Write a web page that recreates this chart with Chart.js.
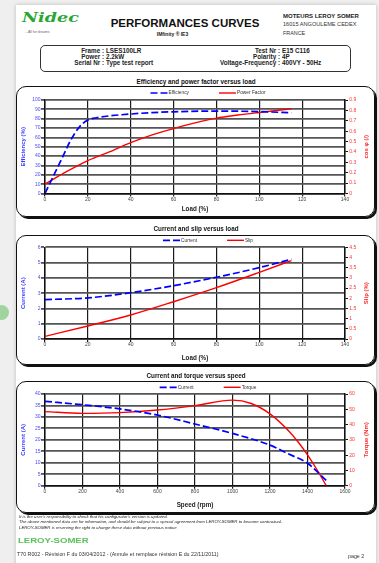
<!DOCTYPE html>
<html>
<head>
<meta charset="utf-8">
<script src="https://cdn.jsdelivr.net/npm/chart.js@4.4.1/dist/chart.umd.min.js"></script>
<style>
body{margin:0;width:379px;height:563px;background:#efefef;overflow:hidden;position:relative;font-family:'Liberation Sans',Arial,sans-serif;}
#page{position:absolute;left:16px;top:5px;width:360px;height:562px;background:#fff;box-shadow:0 0 4px rgba(0,0,0,.22);}
.t{position:absolute;white-space:nowrap;color:#222;line-height:1;}
.b{font-weight:bold;}
.box{position:absolute;left:16px;width:359px;border:1.5px solid #111;border-radius:10px;box-shadow:2px 2px 0 #111;box-sizing:border-box;pointer-events:none;}
canvas{position:absolute;left:16px;}
.ctitle{position:absolute;left:96px;width:200px;text-align:center;font-weight:bold;font-size:6.3px;line-height:1;color:#111;}
</style>
</head>
<body>
<div id="page"></div>
<div style="position:absolute;left:-6.5px;top:305px;width:15px;height:15px;border-radius:50%;background:#9fd49f;"></div>

<!-- header -->
<div class="t" style="left:22px;top:9.5px;font:italic 900 13px 'DejaVu Serif';color:#2aa636;transform:scaleX(1.35);transform-origin:left;">Nidec</div>
<div class="t" style="left:25px;top:30.5px;font-size:3.5px;color:#666;">...All for dreams</div>
<div class="t b" style="left:85px;width:200px;text-align:center;top:17.7px;font-size:11.5px;color:#111;">PERFORMANCES CURVES</div>
<div class="t b" style="left:122.5px;width:100px;text-align:center;top:31.5px;font-size:5px;">IMfinity ® IE3</div>
<div class="t b" style="left:283px;top:12.5px;font-size:6px;">MOTEURS LEROY SOMER</div>
<div class="t" style="left:283px;top:21.7px;font-size:5.6px;color:#333;">16015 ANGOULEME CEDEX</div>
<div class="t" style="left:283px;top:30.6px;font-size:5.4px;color:#333;">FRANCE</div>

<div style="position:absolute;left:40px;top:45px;width:311px;height:27px;border:1px solid #333;border-radius:5px;box-sizing:border-box;"></div>
<div class="t b" style="left:0;width:104px;text-align:right;top:47.5px;font-size:6.3px;">Frame :</div>
<div class="t b" style="left:106px;top:47.5px;font-size:6.3px;">LSES100LR</div>
<div class="t b" style="left:0;width:104px;text-align:right;top:53.6px;font-size:6.3px;">Power :</div>
<div class="t b" style="left:106px;top:53.6px;font-size:6.3px;">2.2kW</div>
<div class="t b" style="left:0;width:104px;text-align:right;top:60.1px;font-size:6.3px;">Serial Nr :</div>
<div class="t b" style="left:106px;top:60.1px;font-size:6.3px;">Type test report</div>
<div class="t b" style="left:100px;width:180px;text-align:right;top:47.5px;font-size:6.3px;">Test Nr :</div>
<div class="t b" style="left:282px;top:47.5px;font-size:6.3px;">E15 C116</div>
<div class="t b" style="left:100px;width:180px;text-align:right;top:53.6px;font-size:6.3px;">Polarity :</div>
<div class="t b" style="left:282px;top:53.6px;font-size:6.3px;">4P</div>
<div class="t b" style="left:100px;width:180px;text-align:right;top:60.1px;font-size:6.3px;">Voltage-Frequency :</div>
<div class="t b" style="left:282px;top:60.1px;font-size:6.3px;">400VY - 50Hz</div>

<!-- charts -->
<div class="ctitle" style="top:78.5px;">Efficiency and power factor versus load</div>
<canvas id="c1" width="359" height="131" style="top:86px;"></canvas>
<div class="box" style="top:86px;height:131px;"></div>

<div class="ctitle" style="top:225.8px;">Current and slip versus load</div>
<canvas id="c2" width="359" height="130" style="top:235px;"></canvas>
<div class="box" style="top:235px;height:130px;"></div>

<div class="ctitle" style="top:373.3px;">Current and torque versus speed</div>
<canvas id="c3" width="359" height="132" style="top:381px;"></canvas>
<div class="box" style="top:381px;height:132px;"></div>

<!-- footer -->
<div class="t" style="left:19px;top:515.2px;font-size:4.3px;font-style:italic;">It is the user's responsibility to check that his configurator's version is updated.</div>
<div class="t" style="left:19px;top:520.2px;font-size:4.3px;font-style:italic;">The above mentioned data are for information, and should be subject to a special agreement from LEROY-SOMER to become contractual.</div>
<div class="t" style="left:19px;top:525.5px;font-size:4.3px;font-style:italic;">LEROY-SOMER is reserving the right to change these data without previous notice</div>
<div class="t b" style="left:18px;top:537.5px;font-size:6.5px;color:#5cc25c;transform:scaleX(1.47);transform-origin:left;">LEROY-SOMER</div>
<div class="t" style="left:17px;top:552.3px;font-size:5.3px;color:#333;">T70 R002 - Révision F du 03/04/2012 - (Annule et remplace révision E du 22/11/2011)</div>
<div class="t" style="left:348px;top:553.5px;font-size:5.3px;color:#333;">page 2</div>

<script>
// efficiency / power factor versus load
const effLoad = [0, 4, 8, 12, 16, 20, 24, 30, 40, 50, 60, 80, 100, 115];
const effValues = [0, 19, 38, 57, 71, 78.5, 81, 83, 85, 86.5, 87.4, 88.2, 87.6, 86.3];
const pfLoad = [0, 10, 20, 30, 40, 50, 60, 70, 80, 90, 100, 115];
const pfValues = [0.09, 0.21, 0.317, 0.40, 0.49, 0.565, 0.625, 0.68, 0.725, 0.755, 0.78, 0.815];

// current / slip versus load
const loadPoints = [0, 20, 40, 60, 80, 100, 115];
const currentValues = [2.58, 2.69, 3.03, 3.49, 4.04, 4.67, 5.22];
const slipValues = [0.13, 0.64, 1.18, 1.83, 2.52, 3.27, 3.85];

// current / torque versus speed
const curSpeed = [0, 200, 400, 600, 800, 1000, 1200, 1300, 1400, 1500];
const curAmps = [36.8, 35.3, 33.5, 30.8, 26.9, 22.8, 17.7, 13.8, 9.8, 2.3];
const torqueSpeed = [0, 200, 400, 600, 800, 1000, 1100, 1200, 1300, 1350, 1400, 1450, 1500];
const torqueNm = [48.5, 47.3, 47.8, 49.5, 52.4, 56.0, 53.8, 47.0, 35.8, 28.6, 20.2, 10.6, 0];

// axis ranges [min, max, step]
const loadAxis = [0, 140, 20];
const speedAxis = [0, 1600, 200];
const effAxis = [0, 100, 10];
const pfAxis = [0, 0.9, 0.1];
const ampAxis1 = [0, 6, 1];
const slipAxis = [0, 4.5, 0.5];
const ampAxis2 = [0, 40, 5];
const torqueAxis = [0, 60, 10];

Chart.defaults.font.family = "'Liberation Sans', Arial, sans-serif";

function pts(xs, ys){
  return xs.map((x,i)=>({x:x, y:ys[i]}));
}

const lineLegend = {
  id:'lineLegend',
  afterDraw(chart, args, o){
    const ctx = chart.ctx;
    ctx.save();
    ctx.font = "4.8px 'Liberation Sans'";
    const items = chart.data.datasets.map(ds=>({ds:ds, w:o.sample + 1 + ctx.measureText(ds.label).width}));
    const total = items.reduce((s,i)=>s+i.w,0) + o.gap*(items.length-1);
    let x = o.cx - total/2;
    items.forEach(it=>{
      ctx.strokeStyle = it.ds.borderColor;
      ctx.lineWidth = it.ds.borderWidth;
      ctx.setLineDash(it.ds.borderDash || []);
      ctx.beginPath();
      ctx.moveTo(x, o.y);
      ctx.lineTo(x+o.sample, o.y);
      ctx.stroke();
      ctx.setLineDash([]);
      ctx.fillStyle = '#333';
      ctx.textBaseline = 'middle';
      ctx.fillText(it.ds.label, x+o.sample+1, o.y);
      x += it.w + o.gap;
    });
    ctx.restore();
  }
};

// the right axis title reads bottom to top, like the left one
const rightTitle = {
  id:'rightTitle',
  afterDraw(chart, args, o){
    const ctx = chart.ctx, a = chart.chartArea;
    ctx.save();
    ctx.translate(o.x, (a.top+a.bottom)/2);
    ctx.rotate(-Math.PI/2);
    ctx.font = "bold 6px 'Liberation Sans'";
    ctx.fillStyle = o.color;
    ctx.textAlign = 'center';
    ctx.textBaseline = 'middle';
    ctx.fillText(o.text, 0, 0);
    ctx.restore();
  }
};

const fmt = v => String(+Number(v).toFixed(2));

function blueLine(label, data){
  return {label:label, data:data, yAxisID:'y', borderColor:'#0000ff', borderWidth:1.7, borderDash:[7,3],
    pointRadius:0, cubicInterpolationMode:'monotone', fill:false};
}
function redLine(label, data){
  return {label:label, data:data, yAxisID:'y1', borderColor:'#ff0000', borderWidth:1.4,
    pointRadius:0, cubicInterpolationMode:'monotone', fill:false};
}

function makeChart(id, p){
  return new Chart(document.getElementById(id), {
    type:'line',
    data:{datasets:p.datasets},
    plugins:[lineLegend, rightTitle],
    options:{
      responsive:false,
      animation:false,
      layout:{padding:{top:p.padTop, left:0, right:0, bottom:0}},
      plugins:{
        legend:{display:false},
        tooltip:{enabled:false},
        lineLegend:{cx:192, y:p.legendY, sample:17, gap:30},
        rightTitle:{x:350.5, text:p.rightTitle, color:'#ff2a2a'}
      },
      scales:{
        x:{
          type:'linear', min:p.xAxis[0], max:p.xAxis[1],
          ticks:{stepSize:p.xAxis[2], color:'#444', font:{size:5}, padding:p.xTickPad, maxRotation:0, callback:fmt},
          grid:{color:'#1a1a1a', lineWidth:1.2, tickLength:3},
          border:{color:'#111', width:1.5},
          title:{display:true, text:p.xTitle, color:'#222', font:{size:6.3, weight:'bold'}, padding:{top:0, bottom:p.xTitlePad}},
          afterFit(s){ s.height = p.xH; }
        },
        y:{
          position:'left', min:p.yAxis[0], max:p.yAxis[1],
          ticks:{stepSize:p.yAxis[2], color:'#4a4aff', font:{size:5}, padding:0.5, callback:fmt},
          grid:{color:'#555', lineWidth:1.8, tickLength:4},
          border:{color:'#111', width:1.5},
          title:{display:true, text:p.yTitle, color:'#3b3bff', font:{size:6, weight:'bold'}, padding:{top:4.1, bottom:0}},
          afterFit(s){ s.width = 29; }
        },
        y1:{
          position:'right', min:p.y1Axis[0], max:p.y1Axis[1],
          ticks:{stepSize:p.y1Axis[2], color:'#ff3030', font:{size:5}, padding:1.3, callback:fmt},
          grid:{drawOnChartArea:false, color:'#111', tickLength:3},
          border:{color:'#111', width:1.5},
          afterFit(s){ s.width = 30; }
        }
      }
    }
  });
}

makeChart('c1', {
  datasets:[blueLine('Efficiency', pts(effLoad, effValues)), redLine('Power Factor', pts(pfLoad, pfValues))],
  padTop:14, xH:23.5, legendY:7, xTickPad:0.5, xTitlePad:3.5,
  xAxis:loadAxis, yAxis:effAxis, y1Axis:pfAxis,
  xTitle:'Load (%)', yTitle:'Efficiency (%)', rightTitle:'cos \u03c6 (/)'
});

makeChart('c2', {
  datasets:[blueLine('Current', pts(loadPoints, currentValues)), redLine('Slip', pts(loadPoints, slipValues))],
  padTop:12.3, xH:26, legendY:5.3, xTickPad:0, xTitlePad:3.1,
  xAxis:loadAxis, yAxis:ampAxis1, y1Axis:slipAxis,
  xTitle:'Load (%)', yTitle:'Current (A)', rightTitle:'Slip (%)'
});

makeChart('c3', {
  datasets:[blueLine('Current', pts(curSpeed, curAmps)), redLine('Torque', pts(torqueSpeed, torqueNm))],
  padTop:13, xH:27.3, legendY:6.3, xTickPad:0, xTitlePad:3.8,
  xAxis:speedAxis, yAxis:ampAxis2, y1Axis:torqueAxis,
  xTitle:'Speed (rpm)', yTitle:'Current (A)', rightTitle:'Torque (Nm)'
});
</script>
</body>
</html>
